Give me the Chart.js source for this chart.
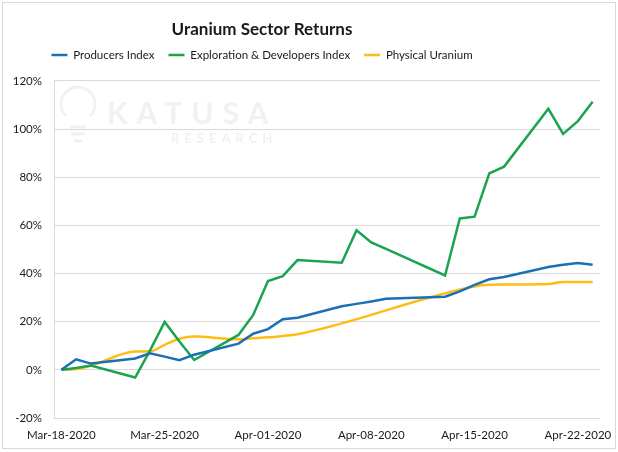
<!DOCTYPE html>
<html lang="en">
<head>
    <meta charset="UTF-8">
    <title>Uranium Sector Returns</title>
    <script src="https://cdn.jsdelivr.net/npm/chart.js"></script>
    <style>
        html, body { margin: 0; padding: 0; background: #fff; }
        #wrap { width: 618px; height: 452px; position: relative; }
    </style>
</head>
<body>
    <div id="wrap">
        <canvas id="uraniumChart" width="618" height="452"></canvas>
    </div>

    <script>
        // one label per calendar day, Mar-18 .. Apr-23
        const dates = [
            'Mar-18-2020', 'Mar-19-2020', 'Mar-20-2020', 'Mar-21-2020', 'Mar-22-2020', 'Mar-23-2020',
            'Mar-24-2020', 'Mar-25-2020', 'Mar-26-2020', 'Mar-27-2020', 'Mar-28-2020', 'Mar-29-2020',
            'Mar-30-2020', 'Mar-31-2020', 'Apr-01-2020', 'Apr-02-2020', 'Apr-03-2020', 'Apr-04-2020',
            'Apr-05-2020', 'Apr-06-2020', 'Apr-07-2020', 'Apr-08-2020', 'Apr-09-2020', 'Apr-10-2020',
            'Apr-11-2020', 'Apr-12-2020', 'Apr-13-2020', 'Apr-14-2020', 'Apr-15-2020', 'Apr-16-2020',
            'Apr-17-2020', 'Apr-18-2020', 'Apr-19-2020', 'Apr-20-2020', 'Apr-21-2020', 'Apr-22-2020',
            'Apr-23-2020'
        ];

        // returns in %, null = no value that day
        const producers = [
            0, 4.4, 2.6, null, null, 4.7, 6.9, 5.5, 4.0, 6.3, null, null,
            10.9, 15.0, 16.9, 21.0, 21.6, null, null, 26.4, 27.4, 28.4, 29.5, null,
            null, null, 30.4, 32.6, 35.3, 37.6, 38.6, null, null, 42.7, 43.6, 44.4,
            43.6
        ];
        const explorers = [
            0, 0.8, 1.8, null, null, -3.2, 8.0, 19.9, 11.8, 4.1, null, null,
            14.5, 22.8, 36.9, 38.9, 45.6, null, null, 44.5, 58.0, 52.9, 50.2, null,
            null, null, 39.2, 62.9, 63.6, 81.6, 84.4, null, null, 108.4, 98.0, 103.3,
            111.3
        ];
        const physical = [
            0, 0.3, 1.7, null, null, 7.6, 7.7, 10.4, 12.9, 13.8, null, null,
            12.7, 13.1, 13.5, 14.1, 14.8, null, null, null, null, null, null, null,
            null, null, null, null, 34.6, 35.3, 35.4, null, null, 35.6, 36.5, 36.5,
            36.5
        ];
        const yTicks = [-20, 0, 20, 40, 60, 80, 100, 120];

        const FONT = 'Lato, "Open Sans", sans-serif';
        const TITLE_SIZE = 17;
        const LEGEND_SIZE = 11.5;
        const LEGEND_PAD = 14;

        // light frame round the whole picture + faint watermark
        const framePlugin = {
            id: 'frame',
            beforeDraw(chart) {
                const c = chart.ctx;
                c.save();
                c.fillStyle = '#fff';
                c.fillRect(0, 0, chart.width, chart.height);
                c.strokeStyle = '#d9d9d9';
                c.lineWidth = 1;
                c.strokeRect(2.5, 2.5, chart.width - 5, chart.height - 6);
                c.restore();
            },
            beforeDatasetsDraw(chart) {
                const c = chart.ctx;
                c.save();
                c.fillStyle = '#f1f1f1';
                c.strokeStyle = '#f1f1f1';
                c.textBaseline = 'middle';
                c.font = 'bold 30px ' + FONT;
                c.letterSpacing = '9px';
                c.fillText('KATUSA', 107, 114);
                c.font = 'bold 13px ' + FONT;
                c.letterSpacing = '5px';
                c.fillText('RESEARCH', 171, 139);
                // bulb
                c.lineWidth = 3;
                c.beginPath();
                c.arc(78, 104, 17, Math.PI * 0.75, Math.PI * 2.25);
                c.stroke();
                c.beginPath();
                c.moveTo(70, 127); c.lineTo(86, 127);
                c.moveTo(71, 134); c.lineTo(85, 134);
                c.moveTo(74, 141); c.lineTo(82, 141);
                c.stroke();
                c.restore();
            }
        };

        // Excel had title + legend left of centre; move their boxes after layout
        const placePlugin = {
            id: 'place',
            afterLayout(chart) {
                const t = chart.titleBlock;
                const l = chart.legend;
                const cx = 262;
                const tdx = cx - (t.left + t.right) / 2;
                const tdy = 30 - (t.top + 6 + TITLE_SIZE * 0.6);
                t.left += tdx; t.right += tdx; t.top += tdy; t.bottom += tdy;
                const ldx = cx - (l.left + l.right) / 2;
                const ldy = 55 - (l.top + LEGEND_PAD + LEGEND_SIZE / 2);
                l.left += ldx; l.right += ldx; l.top += ldy; l.bottom += ldy;
            }
        };

        const ctx = document.getElementById('uraniumChart').getContext('2d');
        const chart = new Chart(ctx, {
            type: 'line',
            data: {
                labels: dates,
                datasets: [
                    {
                        label: 'Producers Index',
                        data: producers,
                        borderColor: '#1a6fb8',
                        backgroundColor: '#1a6fb8',
                        borderWidth: 2.5,
                        pointRadius: 0,
                        tension: 0
                    },
                    {
                        label: 'Exploration & Developers Index',
                        data: explorers,
                        borderColor: '#1ca352',
                        backgroundColor: '#1ca352',
                        borderWidth: 2.5,
                        pointRadius: 0,
                        tension: 0
                    },
                    {
                        label: 'Physical Uranium',
                        data: physical,
                        borderColor: '#fdbd14',
                        backgroundColor: '#fdbd14',
                        borderWidth: 2.5,
                        pointRadius: 0,
                        cubicInterpolationMode: 'monotone'
                    }
                ]
            },
            options: {
                responsive: false,
                animation: false,
                spanGaps: true,
                layout: { padding: { left: 0, right: 18, top: 15, bottom: 0 } },
                plugins: {
                    title: {
                        display: true,
                        text: 'Uranium Sector Returns',
                        color: '#1a1a1a',
                        font: { family: FONT, size: TITLE_SIZE, weight: 'bold' },
                        padding: { top: 6, bottom: 4 }
                    },
                    legend: {
                        display: true,
                        labels: {
                            usePointStyle: true,
                            pointStyle: 'line',
                            pointStyleWidth: 16,
                            boxHeight: 12,
                            color: '#1a1a1a',
                            padding: LEGEND_PAD,
                            font: { family: FONT, size: LEGEND_SIZE }
                        }
                    },
                    tooltip: { enabled: false }
                },
                scales: {
                    x: {
                        type: 'category',
                        offset: true,
                        grid: { display: false, drawTicks: false },
                        border: { display: false },
                        ticks: {
                            autoSkip: false,
                            maxRotation: 0,
                            padding: 10,
                            color: '#1a1a1a',
                            font: { family: FONT, size: 11.5 },
                            callback(value, index) {
                                return index % 7 === 0 ? dates[index] : '';
                            }
                        },
                        afterFit(scale) { scale.height = 34; }
                    },
                    y: {
                        min: yTicks[0],
                        max: yTicks[yTicks.length - 1],
                        afterBuildTicks(scale) {
                            scale.ticks = yTicks.map(v => ({ value: v }));
                        },
                        grid: { color: '#d9d9d9', lineWidth: 1, drawTicks: false },
                        border: { display: true, color: '#d9d9d9' },
                        ticks: {
                            padding: 12,
                            color: '#1a1a1a',
                            font: { family: FONT, size: 11.5 },
                            callback: v => v + '%'
                        },
                        afterFit(scale) { scale.width = 54; }
                    }
                }
            },
            plugins: [framePlugin, placePlugin]
        });
    </script>
</body>
</html>
